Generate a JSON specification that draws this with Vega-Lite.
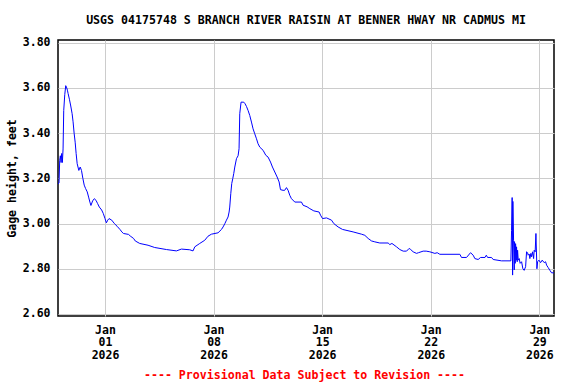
{
  "$schema": "https://vega.github.io/schema/vega-lite/v6.json",
  "width": 496,
  "height": 276,
  "autosize": "none",
  "padding": {"left": 58, "top": 40, "right": 22, "bottom": 68},
  "background": "white",
  "config": {
    "view": {"stroke": "black", "strokeWidth": 1.5},
    "font": "DejaVu Sans Mono"
  },
  "title": {
    "text": "USGS 04175748 S BRANCH RIVER RAISIN AT BENNER HWAY NR CADMUS MI",
    "font": "DejaVu Sans Mono",
    "fontSize": 11.6,
    "fontWeight": "bold",
    "color": "black",
    "anchor": "middle",
    "offset": 10
  },
  "data": {
    "values": [
      {"t": "2025-12-28T23:18:00Z", "v": 3.175},
      {"t": "2025-12-29T00:48:00Z", "v": 3.18},
      {"t": "2025-12-29T01:54:00Z", "v": 3.28},
      {"t": "2025-12-29T02:54:00Z", "v": 3.30},
      {"t": "2025-12-29T04:00:00Z", "v": 3.27},
      {"t": "2025-12-29T05:00:00Z", "v": 3.31},
      {"t": "2025-12-29T06:00:00Z", "v": 3.27},
      {"t": "2025-12-29T07:06:00Z", "v": 3.33},
      {"t": "2025-12-29T08:06:00Z", "v": 3.50},
      {"t": "2025-12-29T09:42:00Z", "v": 3.57},
      {"t": "2025-12-29T11:12:00Z", "v": 3.61},
      {"t": "2025-12-29T12:48:00Z", "v": 3.60},
      {"t": "2025-12-29T13:48:00Z", "v": 3.59},
      {"t": "2025-12-29T14:54:00Z", "v": 3.575},
      {"t": "2025-12-29T16:54:00Z", "v": 3.55},
      {"t": "2025-12-29T19:00:00Z", "v": 3.52},
      {"t": "2025-12-29T21:06:00Z", "v": 3.486},
      {"t": "2025-12-29T22:36:00Z", "v": 3.45},
      {"t": "2025-12-30T00:12:00Z", "v": 3.40},
      {"t": "2025-12-30T01:48:00Z", "v": 3.36},
      {"t": "2025-12-30T03:18:00Z", "v": 3.31},
      {"t": "2025-12-30T04:54:00Z", "v": 3.265},
      {"t": "2025-12-30T07:30:00Z", "v": 3.235},
      {"t": "2025-12-30T09:36:00Z", "v": 3.25},
      {"t": "2025-12-30T11:36:00Z", "v": 3.235},
      {"t": "2025-12-30T13:42:00Z", "v": 3.20},
      {"t": "2025-12-30T15:48:00Z", "v": 3.17},
      {"t": "2025-12-30T17:54:00Z", "v": 3.155},
      {"t": "2025-12-30T20:30:00Z", "v": 3.14},
      {"t": "2025-12-30T22:36:00Z", "v": 3.117},
      {"t": "2025-12-31T00:36:00Z", "v": 3.095},
      {"t": "2025-12-31T02:12:00Z", "v": 3.08},
      {"t": "2025-12-31T04:48:00Z", "v": 3.10},
      {"t": "2025-12-31T07:24:00Z", "v": 3.11},
      {"t": "2025-12-31T10:00:00Z", "v": 3.103},
      {"t": "2025-12-31T12:36:00Z", "v": 3.088},
      {"t": "2025-12-31T15:12:00Z", "v": 3.073},
      {"t": "2025-12-31T18:48:00Z", "v": 3.06},
      {"t": "2025-12-31T21:24:00Z", "v": 3.044},
      {"t": "2026-01-01T00:00:00Z", "v": 3.022},
      {"t": "2026-01-01T02:06:00Z", "v": 3.003},
      {"t": "2026-01-01T04:12:00Z", "v": 3.015},
      {"t": "2026-01-01T06:12:00Z", "v": 3.022},
      {"t": "2026-01-01T10:24:00Z", "v": 3.015},
      {"t": "2026-01-01T14:30:00Z", "v": 3.00},
      {"t": "2026-01-01T18:42:00Z", "v": 2.988},
      {"t": "2026-01-01T23:24:00Z", "v": 2.973},
      {"t": "2026-01-02T02:00:00Z", "v": 2.963},
      {"t": "2026-01-02T04:36:00Z", "v": 2.956},
      {"t": "2026-01-02T12:24:00Z", "v": 2.952},
      {"t": "2026-01-02T15:00:00Z", "v": 2.945},
      {"t": "2026-01-02T20:12:00Z", "v": 2.934},
      {"t": "2026-01-02T22:48:00Z", "v": 2.923},
      {"t": "2026-01-03T05:42:00Z", "v": 2.912},
      {"t": "2026-01-03T18:36:00Z", "v": 2.904},
      {"t": "2026-01-04T04:54:00Z", "v": 2.894},
      {"t": "2026-01-04T23:00:00Z", "v": 2.885},
      {"t": "2026-01-05T14:30:00Z", "v": 2.879},
      {"t": "2026-01-05T22:18:00Z", "v": 2.887},
      {"t": "2026-01-06T11:06:00Z", "v": 2.884},
      {"t": "2026-01-06T16:12:00Z", "v": 2.879},
      {"t": "2026-01-06T18:54:00Z", "v": 2.897},
      {"t": "2026-01-07T02:36:00Z", "v": 2.912},
      {"t": "2026-01-07T10:18:00Z", "v": 2.926},
      {"t": "2026-01-07T15:24:00Z", "v": 2.944},
      {"t": "2026-01-07T20:42:00Z", "v": 2.953},
      {"t": "2026-01-08T06:54:00Z", "v": 2.959},
      {"t": "2026-01-08T12:12:00Z", "v": 2.974},
      {"t": "2026-01-08T14:42:00Z", "v": 2.985},
      {"t": "2026-01-08T17:18:00Z", "v": 2.999},
      {"t": "2026-01-08T19:54:00Z", "v": 3.015},
      {"t": "2026-01-08T22:24:00Z", "v": 3.029},
      {"t": "2026-01-09T00:00:00Z", "v": 3.051},
      {"t": "2026-01-09T01:00:00Z", "v": 3.073},
      {"t": "2026-01-09T02:36:00Z", "v": 3.132},
      {"t": "2026-01-09T04:06:00Z", "v": 3.177},
      {"t": "2026-01-09T05:42:00Z", "v": 3.199},
      {"t": "2026-01-09T07:12:00Z", "v": 3.221},
      {"t": "2026-01-09T08:48:00Z", "v": 3.25},
      {"t": "2026-01-09T11:24:00Z", "v": 3.287},
      {"t": "2026-01-09T13:54:00Z", "v": 3.30},
      {"t": "2026-01-09T15:24:00Z", "v": 3.331},
      {"t": "2026-01-09T16:30:00Z", "v": 3.486},
      {"t": "2026-01-09T18:30:00Z", "v": 3.537},
      {"t": "2026-01-09T22:42:00Z", "v": 3.537},
      {"t": "2026-01-10T00:42:00Z", "v": 3.53},
      {"t": "2026-01-10T02:54:00Z", "v": 3.518},
      {"t": "2026-01-10T05:24:00Z", "v": 3.50},
      {"t": "2026-01-10T08:00:00Z", "v": 3.478},
      {"t": "2026-01-10T10:36:00Z", "v": 3.449},
      {"t": "2026-01-10T13:06:00Z", "v": 3.419},
      {"t": "2026-01-10T15:42:00Z", "v": 3.397},
      {"t": "2026-01-10T18:24:00Z", "v": 3.375},
      {"t": "2026-01-10T20:48:00Z", "v": 3.353},
      {"t": "2026-01-10T23:30:00Z", "v": 3.338},
      {"t": "2026-01-11T04:36:00Z", "v": 3.324},
      {"t": "2026-01-11T08:48:00Z", "v": 3.302},
      {"t": "2026-01-11T12:18:00Z", "v": 3.294},
      {"t": "2026-01-11T16:06:00Z", "v": 3.272},
      {"t": "2026-01-11T19:06:00Z", "v": 3.25},
      {"t": "2026-01-11T22:42:00Z", "v": 3.228},
      {"t": "2026-01-12T02:18:00Z", "v": 3.206},
      {"t": "2026-01-12T05:24:00Z", "v": 3.184},
      {"t": "2026-01-12T07:30:00Z", "v": 3.15},
      {"t": "2026-01-12T11:30:00Z", "v": 3.147},
      {"t": "2026-01-12T14:00:00Z", "v": 3.147},
      {"t": "2026-01-12T16:48:00Z", "v": 3.159},
      {"t": "2026-01-12T19:18:00Z", "v": 3.147},
      {"t": "2026-01-12T21:54:00Z", "v": 3.125},
      {"t": "2026-01-13T00:30:00Z", "v": 3.11},
      {"t": "2026-01-13T05:42:00Z", "v": 3.095},
      {"t": "2026-01-13T16:00:00Z", "v": 3.095},
      {"t": "2026-01-13T18:30:00Z", "v": 3.081},
      {"t": "2026-01-14T00:42:00Z", "v": 3.074},
      {"t": "2026-01-14T04:54:00Z", "v": 3.066},
      {"t": "2026-01-14T11:06:00Z", "v": 3.056},
      {"t": "2026-01-14T19:18:00Z", "v": 3.051},
      {"t": "2026-01-14T21:30:00Z", "v": 3.037},
      {"t": "2026-01-15T00:36:00Z", "v": 3.022},
      {"t": "2026-01-15T06:42:00Z", "v": 3.025},
      {"t": "2026-01-15T14:30:00Z", "v": 3.015},
      {"t": "2026-01-15T18:00:00Z", "v": 3.00},
      {"t": "2026-01-16T00:42:00Z", "v": 2.985},
      {"t": "2026-01-16T07:30:00Z", "v": 2.974},
      {"t": "2026-01-16T23:54:00Z", "v": 2.963},
      {"t": "2026-01-17T12:54:00Z", "v": 2.953},
      {"t": "2026-01-17T18:00:00Z", "v": 2.948},
      {"t": "2026-01-17T23:12:00Z", "v": 2.934},
      {"t": "2026-01-18T04:24:00Z", "v": 2.923},
      {"t": "2026-01-18T09:30:00Z", "v": 2.919},
      {"t": "2026-01-18T17:12:00Z", "v": 2.914},
      {"t": "2026-01-19T06:06:00Z", "v": 2.914},
      {"t": "2026-01-19T08:42:00Z", "v": 2.907},
      {"t": "2026-01-19T12:00:00Z", "v": 2.912},
      {"t": "2026-01-19T19:06:00Z", "v": 2.897},
      {"t": "2026-01-20T00:12:00Z", "v": 2.885},
      {"t": "2026-01-20T05:24:00Z", "v": 2.878},
      {"t": "2026-01-20T10:36:00Z", "v": 2.878},
      {"t": "2026-01-20T14:36:00Z", "v": 2.89},
      {"t": "2026-01-20T17:00:00Z", "v": 2.885},
      {"t": "2026-01-20T20:48:00Z", "v": 2.875},
      {"t": "2026-01-21T02:00:00Z", "v": 2.868},
      {"t": "2026-01-21T05:00:00Z", "v": 2.871},
      {"t": "2026-01-21T12:18:00Z", "v": 2.878},
      {"t": "2026-01-21T17:00:00Z", "v": 2.878},
      {"t": "2026-01-21T22:36:00Z", "v": 2.875},
      {"t": "2026-01-22T06:24:00Z", "v": 2.868},
      {"t": "2026-01-22T10:00:00Z", "v": 2.871},
      {"t": "2026-01-22T14:06:00Z", "v": 2.864},
      {"t": "2026-01-23T21:06:00Z", "v": 2.864},
      {"t": "2026-01-23T23:36:00Z", "v": 2.85},
      {"t": "2026-01-24T07:24:00Z", "v": 2.85},
      {"t": "2026-01-24T13:36:00Z", "v": 2.871},
      {"t": "2026-01-24T17:42:00Z", "v": 2.86},
      {"t": "2026-01-24T20:18:00Z", "v": 2.845},
      {"t": "2026-01-25T01:24:00Z", "v": 2.841},
      {"t": "2026-01-25T05:06:00Z", "v": 2.85},
      {"t": "2026-01-25T12:00:00Z", "v": 2.85},
      {"t": "2026-01-25T14:00:00Z", "v": 2.86},
      {"t": "2026-01-25T16:00:00Z", "v": 2.85},
      {"t": "2026-01-25T22:06:00Z", "v": 2.85},
      {"t": "2026-01-26T00:36:00Z", "v": 2.841},
      {"t": "2026-01-26T13:30:00Z", "v": 2.835},
      {"t": "2026-01-27T04:00:00Z", "v": 2.835},
      {"t": "2026-01-27T05:06:00Z", "v": 2.97},
      {"t": "2026-01-27T06:00:00Z", "v": 3.115},
      {"t": "2026-01-27T06:42:00Z", "v": 2.772},
      {"t": "2026-01-27T07:06:00Z", "v": 3.098},
      {"t": "2026-01-27T08:12:00Z", "v": 2.926},
      {"t": "2026-01-27T09:12:00Z", "v": 2.795},
      {"t": "2026-01-27T09:42:00Z", "v": 2.92},
      {"t": "2026-01-27T10:42:00Z", "v": 2.824},
      {"t": "2026-01-27T11:18:00Z", "v": 2.911},
      {"t": "2026-01-27T12:18:00Z", "v": 2.838},
      {"t": "2026-01-27T12:48:00Z", "v": 2.897},
      {"t": "2026-01-27T13:48:00Z", "v": 2.831},
      {"t": "2026-01-27T14:24:00Z", "v": 2.882},
      {"t": "2026-01-27T15:24:00Z", "v": 2.838},
      {"t": "2026-01-27T16:54:00Z", "v": 2.845},
      {"t": "2026-01-27T18:24:00Z", "v": 2.824},
      {"t": "2026-01-27T20:36:00Z", "v": 2.831},
      {"t": "2026-01-27T22:36:00Z", "v": 2.80},
      {"t": "2026-01-28T00:36:00Z", "v": 2.793},
      {"t": "2026-01-28T02:48:00Z", "v": 2.809},
      {"t": "2026-01-28T04:18:00Z", "v": 2.875},
      {"t": "2026-01-28T05:54:00Z", "v": 2.871},
      {"t": "2026-01-28T06:48:00Z", "v": 2.86},
      {"t": "2026-01-28T08:24:00Z", "v": 2.865},
      {"t": "2026-01-28T09:24:00Z", "v": 2.845},
      {"t": "2026-01-28T11:00:00Z", "v": 2.868},
      {"t": "2026-01-28T12:06:00Z", "v": 2.853},
      {"t": "2026-01-28T13:36:00Z", "v": 2.875},
      {"t": "2026-01-28T15:12:00Z", "v": 2.845},
      {"t": "2026-01-28T16:06:00Z", "v": 2.882},
      {"t": "2026-01-28T17:36:00Z", "v": 2.875},
      {"t": "2026-01-28T18:48:00Z", "v": 2.956},
      {"t": "2026-01-28T20:18:00Z", "v": 2.80},
      {"t": "2026-01-28T21:24:00Z", "v": 2.831},
      {"t": "2026-01-28T23:24:00Z", "v": 2.838},
      {"t": "2026-01-29T02:00:00Z", "v": 2.827},
      {"t": "2026-01-29T04:30:00Z", "v": 2.838},
      {"t": "2026-01-29T07:36:00Z", "v": 2.827},
      {"t": "2026-01-29T09:42:00Z", "v": 2.831},
      {"t": "2026-01-29T11:18:00Z", "v": 2.816},
      {"t": "2026-01-29T13:48:00Z", "v": 2.805},
      {"t": "2026-01-29T16:24:00Z", "v": 2.793},
      {"t": "2026-01-29T19:00:00Z", "v": 2.782},
      {"t": "2026-01-29T22:36:00Z", "v": 2.782}
    ]
  },
  "mark": {"type": "line", "color": "#0000ff", "strokeWidth": 1, "interpolate": "linear", "clip": true},
  "encoding": {
    "x": {
      "field": "t",
      "type": "temporal",
      "scale": {"type": "utc", "domain": ["2025-12-28T23:15:00Z", "2026-01-29T22:45:00Z"], "nice": false},
      "axis": {
        "values": [
          {"year": 2026, "month": 1, "date": 1, "utc": true},
          {"year": 2026, "month": 1, "date": 8, "utc": true},
          {"year": 2026, "month": 1, "date": 15, "utc": true},
          {"year": 2026, "month": 1, "date": 22, "utc": true},
          {"year": 2026, "month": 1, "date": 29, "utc": true}
        ],
        "labelExpr": "[utcFormat(datum.value, '%b'), utcFormat(datum.value, '%d'), utcFormat(datum.value, '%Y')]",
        "labelFont": "DejaVu Sans Mono",
        "labelFontSize": 11.5,
        "labelFontWeight": "bold",
        "labelColor": "black",
        "labelLineHeight": 12.7,
        "labelAlign": "center",
        "labelPadding": 8,
        "ticks": false,
        "tickSize": 0,
        "domain": false,
        "grid": true,
        "gridColor": "#cccccc",
        "gridWidth": 1,
        "title": "---- Provisional Data Subject to Revision ----",
        "titleFont": "DejaVu Sans Mono",
        "titleFontSize": 11.6,
        "titleFontWeight": "bold",
        "titleColor": "#ff0000",
        "titleY": 62,
        "titleBaseline": "alphabetic",
        "titleX": 246
      }
    },
    "y": {
      "field": "v",
      "type": "quantitative",
      "scale": {"domain": [2.591, 3.812], "nice": false, "zero": false},
      "axis": {
        "values": [2.6, 2.8, 3.0, 3.2, 3.4, 3.6, 3.8],
        "format": ".2f",
        "labelFont": "DejaVu Sans Mono",
        "labelFontSize": 11.5,
        "labelFontWeight": "bold",
        "labelColor": "black",
        "labelPadding": 8,
        "ticks": false,
        "tickSize": 0,
        "domain": false,
        "grid": true,
        "gridColor": "#cccccc",
        "gridWidth": 1,
        "title": "Gage height, feet",
        "titleFont": "DejaVu Sans Mono",
        "titleFontSize": 11.6,
        "titleFontWeight": "bold",
        "titleColor": "black",
        "titleX": -46,
        "titleY": 138,
        "titleAngle": -90,
        "titleAlign": "center",
        "titleBaseline": "middle"
      }
    }
  }
}
